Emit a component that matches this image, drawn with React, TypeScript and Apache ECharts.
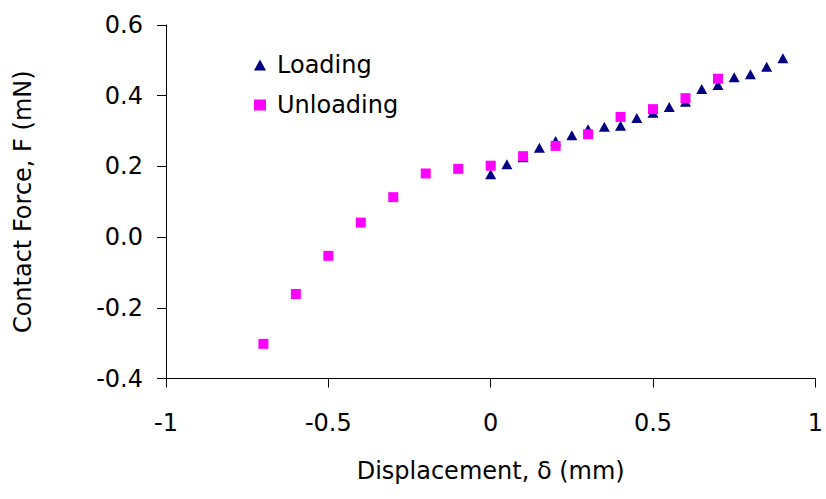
import React, { useEffect, useRef } from "react";
import * as echarts from "echarts";

const loadingX = [0, 0.05, 0.1, 0.15, 0.2, 0.25, 0.3, 0.35, 0.4, 0.45, 0.5, 0.55, 0.6, 0.65, 0.7, 0.75, 0.8, 0.85, 0.9];
const loadingY = [0.178, 0.206, 0.226, 0.253, 0.272, 0.288, 0.305, 0.312, 0.315, 0.337, 0.352, 0.368, 0.383, 0.419, 0.43, 0.452, 0.461, 0.482, 0.506];

const unloadingX = [-0.7, -0.6, -0.5, -0.4, -0.3, -0.2, -0.1, 0, 0.1, 0.2, 0.3, 0.4, 0.5, 0.6, 0.7];
const unloadingY = [-0.302, -0.161, -0.053, 0.041, 0.113, 0.18, 0.193, 0.202, 0.229, 0.258, 0.291, 0.34, 0.362, 0.393, 0.448];

const FONT = "DejaVu Sans";

export default function App() {
  const ref = useRef<HTMLDivElement>(null);
  useEffect(() => {
    if (!ref.current) return;
    const chart = echarts.init(ref.current, null, { renderer: "svg" });
    chart.setOption({
      animation: false,
      backgroundColor: "#ffffff",
      textStyle: { fontFamily: FONT },
      grid: { left: 166, right: 9, top: 25, bottom: 120.5, containLabel: false },
      legend: {
        orient: "vertical",
        left: 249,
        top: 48,
        itemWidth: 12,
        itemHeight: 11,
        itemGap: 16,
        textStyle: { fontFamily: FONT, fontSize: 24, color: "#000", padding: [0, 0, 0, 6] },
        data: [
          { name: "Loading", icon: "triangle" },
          { name: "Unloading", icon: "rect" },
        ],
      },
      xAxis: {
        type: "value",
        min: -1,
        max: 1,
        interval: 0.5,
        name: "Displacement, δ (mm)",
        nameLocation: "middle",
        nameGap: 80,
        nameTextStyle: { fontFamily: FONT, fontSize: 24, color: "#000" },
        axisLine: { show: true, onZero: false, lineStyle: { color: "#000", width: 1 } },
        axisTick: { show: true, inside: false, length: 9, lineStyle: { color: "#000" } },
        axisLabel: { fontFamily: FONT, fontSize: 24, color: "#000", margin: 32 },
        splitLine: { show: false },
      },
      yAxis: {
        type: "value",
        min: -0.4,
        max: 0.6,
        interval: 0.2,
        name: "Contact Force, F (mN)",
        nameLocation: "middle",
        nameGap: 131,
        nameRotate: 90,
        nameTextStyle: { fontFamily: FONT, fontSize: 24, color: "#000" },
        axisLine: { show: true, onZero: false, lineStyle: { color: "#000", width: 1 } },
        axisTick: { show: true, inside: false, length: 9, lineStyle: { color: "#000" } },
        axisLabel: {
          fontFamily: FONT,
          fontSize: 24,
          color: "#000",
          margin: 23,
          formatter: (v: number) => v.toFixed(1),
        },
        splitLine: { show: false },
      },
      series: [
        {
          name: "Loading",
          type: "scatter",
          symbol: "triangle",
          symbolSize: [11, 10],
          itemStyle: { color: "#000080", opacity: 1 },
          data: loadingX.map((x, i) => [x, loadingY[i]]),
          z: 2,
        },
        {
          name: "Unloading",
          type: "scatter",
          symbol: "rect",
          symbolSize: 10,
          itemStyle: { color: "#ff00ff", opacity: 1 },
          data: unloadingX.map((x, i) => [x, unloadingY[i]]),
          z: 3,
        },
      ],
    });
    return () => chart.dispose();
  }, []);
  return <div ref={ref} style={{ width: 826, height: 499, position: "absolute", left: 0, top: 0 }} />;
}
